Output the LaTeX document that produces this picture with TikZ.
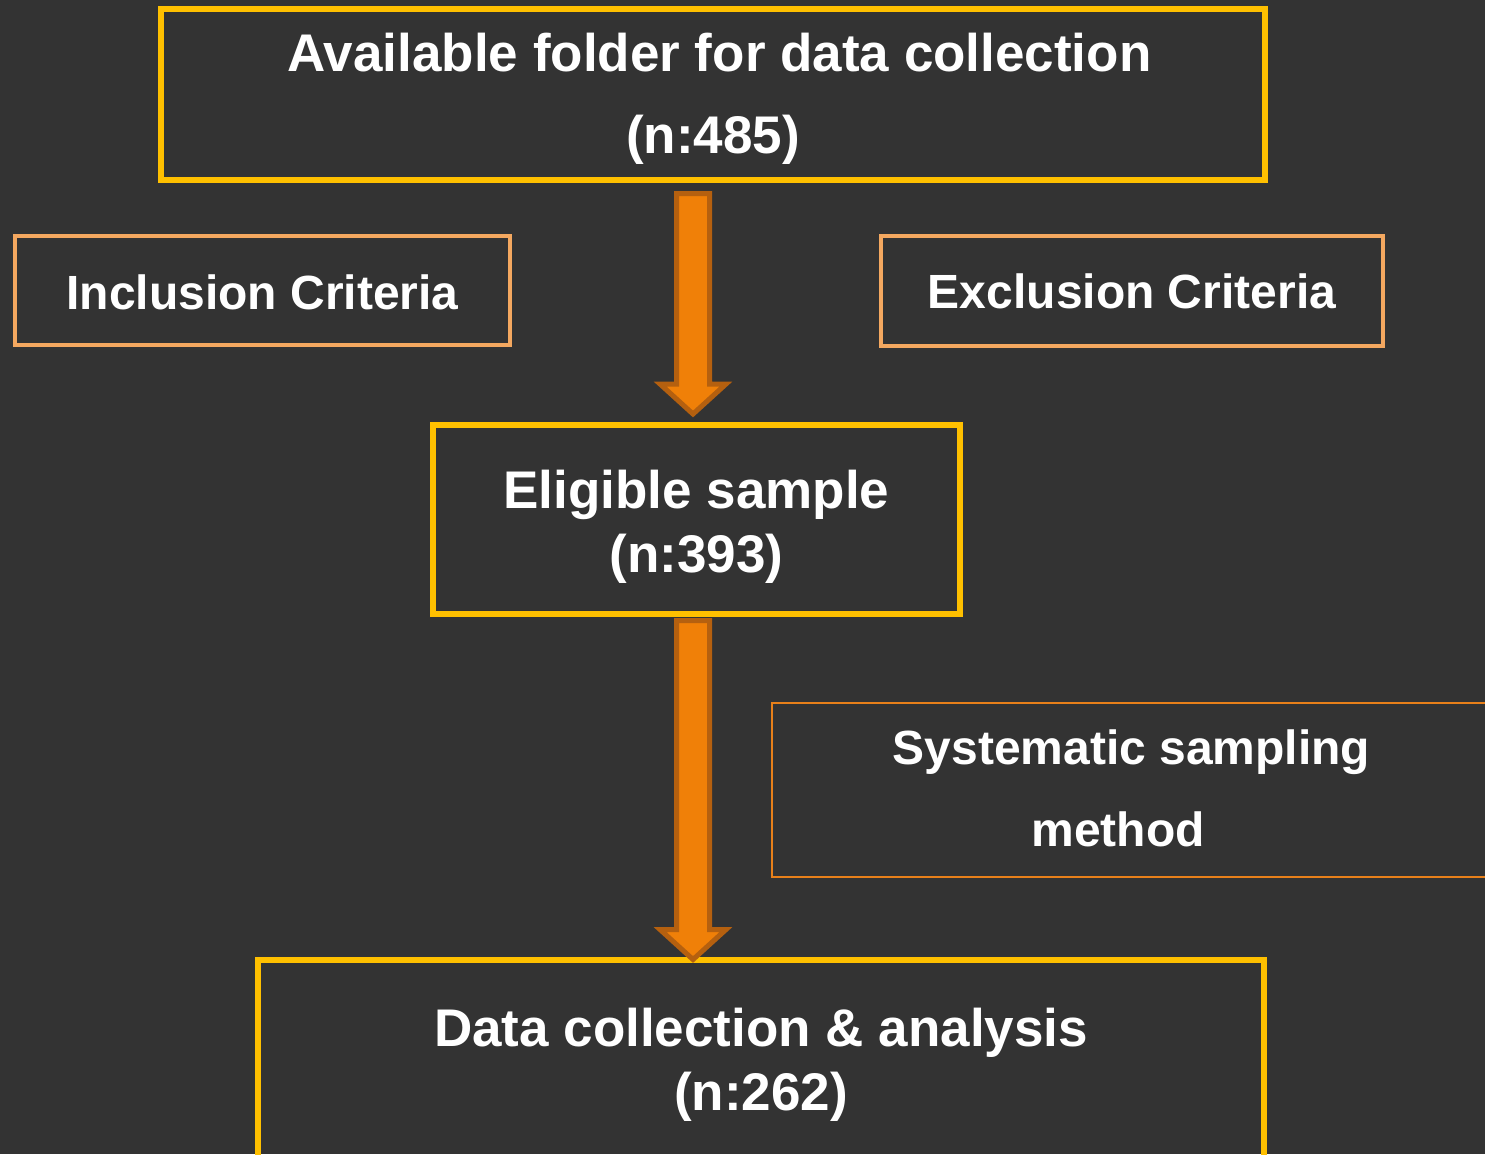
\documentclass[tikz,border=0pt]{standalone}
\usepackage{fontspec}
\setmainfont{Liberation Sans}
\usetikzlibrary{calc}
\definecolor{bg}{HTML}{333333}
\definecolor{gold}{HTML}{FFC000}
\definecolor{sand}{HTML}{F4A860}
\definecolor{orng}{HTML}{E8801A}
\definecolor{arrfill}{HTML}{F08008}
\definecolor{arrdraw}{HTML}{B5600F}
\newcommand{\btext}[2]{\raisebox{#1}[0pt][0pt]{\begin{tabular}[b]{@{}c@{}}#2\end{tabular}}}
\newcommand{\blockarrow}[2]{%
  \path[blockarrowstyle] let \p1=(#1), \p2=(#2) in
    (\x1-16.5pt,\y1) -- (\x1+16.5pt,\y1) -- (\x1+16.5pt,\y2+30pt) -- (\x1+33pt,\y2+30pt)
    -- (\x1,\y2) -- (\x1-33pt,\y2+30pt) -- (\x1-16.5pt,\y2+30pt) -- cycle;}
\begin{document}
\begin{tikzpicture}[x=1pt,y=-1pt,
  basebox/.style={rectangle, inner sep=0pt, outer sep=0pt, text=white, font=\bfseries},
  mainbox/.style={basebox, draw=gold, line width=6pt},
  critbox/.style={basebox, draw=sand, line width=4pt},
  methbox/.style={basebox, draw=orng, line width=2pt},
  blockarrowstyle/.style={fill=arrfill, draw=arrdraw, line width=5pt, miter limit=10}]
\fill[bg] (0,0) rectangle (1485,1154);
\useasboundingbox (0,0) rectangle (1485,1154);
\clip (0,0) rectangle (1485,1154);

\node[mainbox, minimum width=1104pt, minimum height=171pt] (top) at (713,94.5)
  {\fontsize{53}{82}\selectfont\btext{-58.5pt}{\rule{13pt}{0pt}Available folder for data collection\\(n:485)}};
\node[critbox, minimum width=495pt, minimum height=109pt] (incl) at (262.5,290.5)
  {\fontsize{48}{58}\selectfont\btext{-18.5pt}{Inclusion Criteria}};
\node[critbox, minimum width=502pt, minimum height=110pt] (excl) at (1132,291)
  {\fontsize{48}{58}\selectfont\btext{-17pt}{Exclusion Criteria}};
\node[mainbox, minimum width=527pt, minimum height=189pt] (elig) at (696.5,519.5)
  {\fontsize{53}{64}\selectfont\btext{-52.5pt}{Eligible sample\\(n:393)}};
\node[methbox, minimum width=720pt, minimum height=174pt] (meth) at (1131.5,790)
  {\fontsize{48}{82}\selectfont\btext{-56pt}{Systematic sampling\\method\rule{27pt}{0pt}}};
\node[mainbox, minimum width=1006pt, minimum height=200pt] (data) at (761,1059.5)
  {\fontsize{53}{64}\selectfont\btext{-50.5pt}{Data collection \& analysis\\(n:262)}};

\coordinate (a1s) at ([xshift=-20pt,yshift=-13.5pt]top.south);
\coordinate (a1e) at ([xshift=-3.5pt,yshift=11pt]elig.north);
\coordinate (a2s) at ([xshift=-3.5pt,yshift=-6.5pt]elig.south);
\coordinate (a2e) at ([xshift=-68pt,yshift=0pt]data.north);
\blockarrow{a1s}{a1e}
\blockarrow{a2s}{a2e}
\end{tikzpicture}
\end{document}
